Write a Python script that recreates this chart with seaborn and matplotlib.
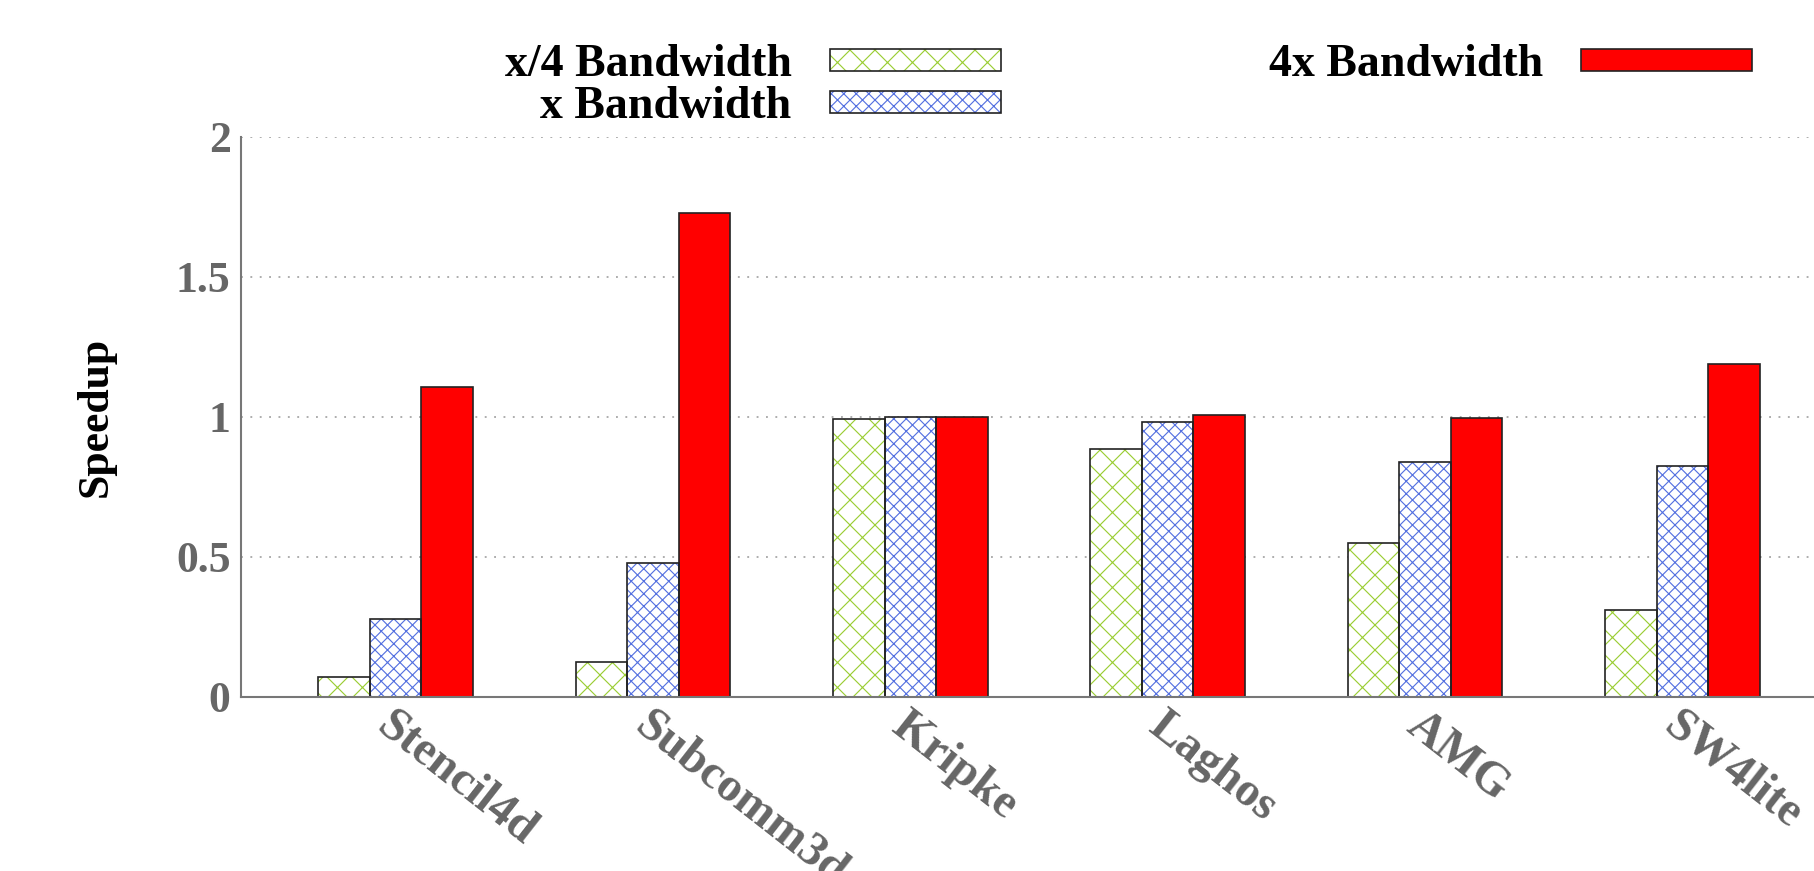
import matplotlib
matplotlib.use("Agg")
import matplotlib.pyplot as plt
from matplotlib.patches import Patch, Rectangle
from matplotlib.transforms import ScaledTranslation
import seaborn as sns
import pandas as pd

# data
benchmarks = ["Stencil4d", "Subcomm3d", "Kripke", "Laghos", "AMG", "SW4lite"]
series = ["x/4 Bandwidth", "x Bandwidth", "4x Bandwidth"]
quarter_bw = [0.07, 0.125, 0.993, 0.884, 0.551, 0.31]
base_bw = [0.277, 0.478, 1.0, 0.981, 0.839, 0.825]
quad_bw = [1.107, 1.728, 1.0, 1.008, 0.998, 1.189]

yticks = [0, 0.5, 1, 1.5, 2]
ytick_labels = ["0", "0.5", "1", "1.5", "2"]

fill_colors = ["white", "white", "#ff0000"]
hatch_colors = ["#9acd32", "#5470e0", "#ff0000"]
hatches = ["xx", "xxxx", ""]
edge = "#222222"
grey = "#666666"

sns.set_style("white")
plt.rcParams["font.family"] = ["Liberation Serif", "DejaVu Serif"]
plt.rcParams["font.weight"] = "bold"
plt.rcParams["hatch.linewidth"] = 0.55

df = pd.DataFrame({
    "benchmark": benchmarks * 3,
    "series": [series[0]] * 6 + [series[1]] * 6 + [series[2]] * 6,
    "speedup": quarter_bw + base_bw + quad_bw,
})

dpi = 150
fig = plt.figure(figsize=(1814 / dpi, 871 / dpi), dpi=dpi)
ax = fig.add_axes([241 / 1814, 174 / 871, 1596 / 1814, 560 / 871])

sns.barplot(data=df, x="benchmark", y="speedup", hue="series",
            order=benchmarks, hue_order=series,
            palette=dict(zip(series, fill_colors)), saturation=1,
            width=0.6, gap=0, errorbar=None, legend=False, ax=ax)

# hatch in colour, outline in black: draw the outline as a second patch
for container, fc, hc, h in zip(ax.containers, fill_colors, hatch_colors, hatches):
    for bar in container:
        bar.set_facecolor(fc)
        bar.set_edgecolor(hc)
        bar.set_hatch(h)
        bar.set_linewidth(0)
        ax.add_patch(Rectangle((bar.get_x(), bar.get_y()), bar.get_width(), bar.get_height(),
                               fill=False, edgecolor=edge, linewidth=0.8,
                               zorder=bar.get_zorder() + 0.1))

ax.set_xlim(-0.6, 5.6)
ax.set_ylim(0, 2)
ax.set_yticks(yticks)
ax.set_yticklabels(ytick_labels)
ax.yaxis.grid(True, linestyle=(0, (1, 4)), color="#aaaaaa", linewidth=0.9)
ax.set_axisbelow(True)

for side in ["top", "right"]:
    ax.spines[side].set_visible(False)
for side in ["left", "bottom"]:
    ax.spines[side].set_color("#777777")
    ax.spines[side].set_linewidth(1.0)

ax.tick_params(axis="y", direction="in", length=4, width=0.8, color="#777777",
               labelsize=21, labelcolor=grey, pad=5)
ax.tick_params(axis="x", length=0, labelsize=23, labelcolor=grey, pad=3)
for lab in ax.get_yticklabels():
    lab.set_fontweight("bold")
for lab in ax.get_xticklabels():
    lab.set_rotation(-38)
    lab.set_ha("left")
    lab.set_va("top")
    lab.set_rotation_mode("anchor")
    lab.set_fontweight("bold")
    lab.set_transform(lab.get_transform() + ScaledTranslation(0, 0, fig.dpi_scale_trans))

ax.set_xlabel("")
ax.set_ylabel("Speedup", fontsize=21, fontweight="bold", color="black")
ax.yaxis.set_label_coords((116 - 241) / 1596, 0.5)

handles = []
for fc, hc, h in zip(fill_colors, hatch_colors, hatches):
    handles.append((Patch(facecolor=fc, edgecolor=hc, hatch=h, linewidth=0),
                    Patch(facecolor="none", edgecolor=edge, linewidth=0.8)))
fig.legend(handles, series, loc="upper right", bbox_to_anchor=(1752 / 1814, 1 - 44 / 871),
           ncol=2, markerfirst=False, frameon=False, borderpad=0,
           borderaxespad=0, handlelength=3.73, handleheight=0.36, handletextpad=0.83,
           columnspacing=5.85, labelspacing=0.0, labelcolor="black",
           prop={"weight": "bold", "size": 22})

fig.savefig("out.png", dpi=dpi)
